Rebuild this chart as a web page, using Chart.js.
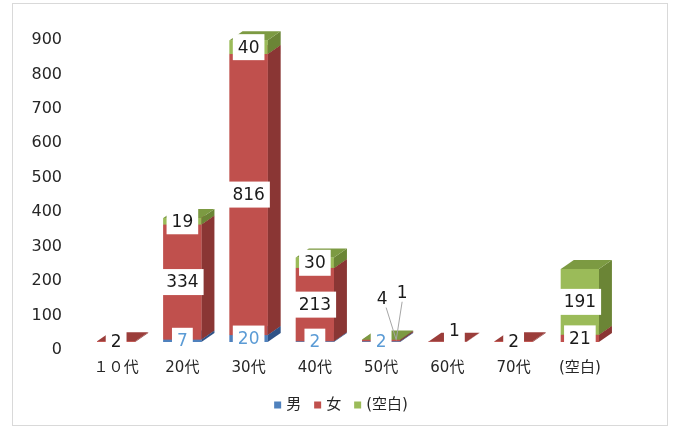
<!DOCTYPE html>
<html>
<head>
<meta charset="utf-8">
<script src="https://cdn.jsdelivr.net/npm/chart.js@4/dist/chart.umd.min.js"></script>
<style>
  html, body { margin: 0; padding: 0; background: #fff; }
  #wrap { position: relative; width: 675px; height: 430px; }
</style>
</head>
<body>
<div id="wrap"><canvas id="chart-age" width="675" height="430"></canvas></div>
<script>
const categories = ['１０代', '20代', '30代', '40代', '50代', '60代', '70代', '(空白)'];
const seriesNames = ['男', '女', '(空白)'];
const male = [0, 7, 20, 2, 2, 0, 0, 0];
const female = [2, 334, 816, 213, 4, 1, 2, 21];
const blank = [0, 19, 40, 30, 1, 0, 0, 191];
const yMin = 0, yMax = 900, yStep = 100;

const FONT = '"DejaVu Sans", "Noto Sans CJK JP", sans-serif';
const DX = 13, DY = 9; // fake depth of the 3d bars
const faces = [
  { front: '#4f81bd', side: '#2f5286', top: '#3c679c' },
  { front: '#c0504d', side: '#8a3634', top: '#9b3d3a' },
  { front: '#9bbb59', side: '#6b8536', top: '#7c9a42' },
];
// label nudges, key = dataset,index -> [dx, dy, leader line]
const labelNudge = { '1,4': [1, -42, true], '2,4': [21, -47, true], '1,5': [7, -11, false] };

function poly(ctx, pts, color) {
  ctx.beginPath();
  ctx.moveTo(pts[0][0], pts[0][1]);
  pts.slice(1).forEach(p => ctx.lineTo(p[0], p[1]));
  ctx.closePath();
  ctx.fillStyle = color;
  ctx.fill();
}

const frame = {
  id: 'frame',
  beforeDraw(chart) {
    const ctx = chart.ctx;
    ctx.save();
    ctx.fillStyle = '#fff';
    ctx.fillRect(0, 0, chart.width, chart.height);
    ctx.strokeStyle = '#d9d9d9';
    ctx.lineWidth = 1;
    ctx.strokeRect(12.5, 3.5, 655, 422);
    ctx.restore();
  },
  afterDraw(chart) {
    // legend, centred under the plot like the original
    const ctx = chart.ctx;
    ctx.save();
    ctx.font = '15px ' + FONT;
    ctx.textBaseline = 'middle';
    ctx.textAlign = 'left';
    const items = chart.data.datasets.map(ds => ({ text: ds.label, color: ds.backgroundColor, w: ctx.measureText(ds.label).width }));
    const box = 7, gap = 5, space = 13;
    const total = items.reduce((s, it) => s + box + gap + it.w, 0) + space * (items.length - 1);
    let x = 341 - total / 2;
    const y = 405;
    items.forEach(it => {
      ctx.fillStyle = it.color;
      ctx.fillRect(x, y - 3.5, box, box);
      x += box + gap;
      ctx.fillStyle = '#262626';
      ctx.fillText(it.text, x, y);
      x += it.w + space;
    });
    ctx.restore();
  }
};

const bars3d = {
  id: 'bars3d',
  afterDatasetsDraw(chart) {
    const ctx = chart.ctx;
    ctx.save();
    categories.forEach((c, i) => {
      chart.data.datasets.forEach((ds, d) => {
        if (!ds.data[i]) return;
        const el = chart.getDatasetMeta(d).data[i];
        const { x, y, base, width } = el.getProps(['x', 'y', 'base', 'width'], true);
        const x0 = x - width / 2, x1 = x + width / 2;
        const yt = Math.min(y, base), yb = Math.max(y, base);
        const f = faces[d];
        poly(ctx, [[x1, yb], [x1 + DX, yb - DY], [x1 + DX, yt - DY], [x1, yt]], f.side);
        poly(ctx, [[x0, yt], [x0 + DX, yt - DY], [x1 + DX, yt - DY], [x1, yt]], f.top);
        ctx.fillStyle = f.front;
        ctx.fillRect(x0, yt, width, yb - yt);
      });
    });

    // data labels
    ctx.font = '17px ' + FONT;
    ctx.textAlign = 'center';
    ctx.textBaseline = 'middle';
    categories.forEach((c, i) => {
      chart.data.datasets.forEach((ds, d) => {
        const v = ds.data[i];
        if (!v) return;
        const el = chart.getDatasetMeta(d).data[i];
        const { x, y, base, width } = el.getProps(['x', 'y', 'base', 'width'], true);
        const cy = (y + base) / 2;
        const nudge = labelNudge[d + ',' + i];
        let lx = x, ly = cy;
        if (nudge) { lx += nudge[0]; ly += nudge[1]; }
        const txt = String(v);
        const tw = ctx.measureText(txt).width;
        if (nudge && nudge[2]) {
          ctx.strokeStyle = '#a6a6a6';
          ctx.lineWidth = 1;
          ctx.beginPath();
          ctx.moveTo(lx + (d === 1 ? 4 : 0), ly + 9);
          ctx.lineTo(x + width * 0.4, base - 1);
          ctx.stroke();
        } else {
          ctx.fillStyle = '#fff';
          ctx.fillRect(lx - tw / 2 - 5, ly - 13, tw + 10, 26);
        }
        ctx.fillStyle = d === 0 ? '#5b9bd5' : '#1a1a1a';
        ctx.fillText(txt, lx, ly + 1);
      });
    });
    ctx.restore();
  }
};

const ctx = document.getElementById('chart-age').getContext('2d');
new Chart(ctx, {
  type: 'bar',
  plugins: [frame, bars3d],
  data: {
    labels: categories,
    datasets: [
      { label: seriesNames[0], data: male, backgroundColor: faces[0].front, borderWidth: 0 },
      { label: seriesNames[1], data: female, backgroundColor: faces[1].front, borderWidth: 0 },
      { label: seriesNames[2], data: blank, backgroundColor: faces[2].front, borderWidth: 0 },
    ],
  },
  options: {
    responsive: false,
    animation: false,
    layout: { padding: { top: 32, right: 62, bottom: 44, left: 0 } },
    datasets: { bar: { barPercentage: 0.575, categoryPercentage: 1 } },
    plugins: {
      tooltip: { enabled: false },
      legend: { display: false },
    },
    scales: {
      x: {
        stacked: true,
        grid: { display: false, drawTicks: false },
        border: { display: false },
        ticks: { color: '#262626', font: { family: FONT, size: 15 }, padding: 17 },
        afterFit: s => { s.height = 44; },
      },
      y: {
        stacked: true,
        min: yMin,
        max: yMax,
        grid: { display: false, drawTicks: false },
        border: { display: false },
        ticks: { stepSize: yStep, color: '#262626', font: { family: FONT, size: 16 }, padding: 21, labelOffset: 8 },
        afterFit: s => { s.width = 83; },
      },
    },
  },
});
</script>
</body>
</html>
